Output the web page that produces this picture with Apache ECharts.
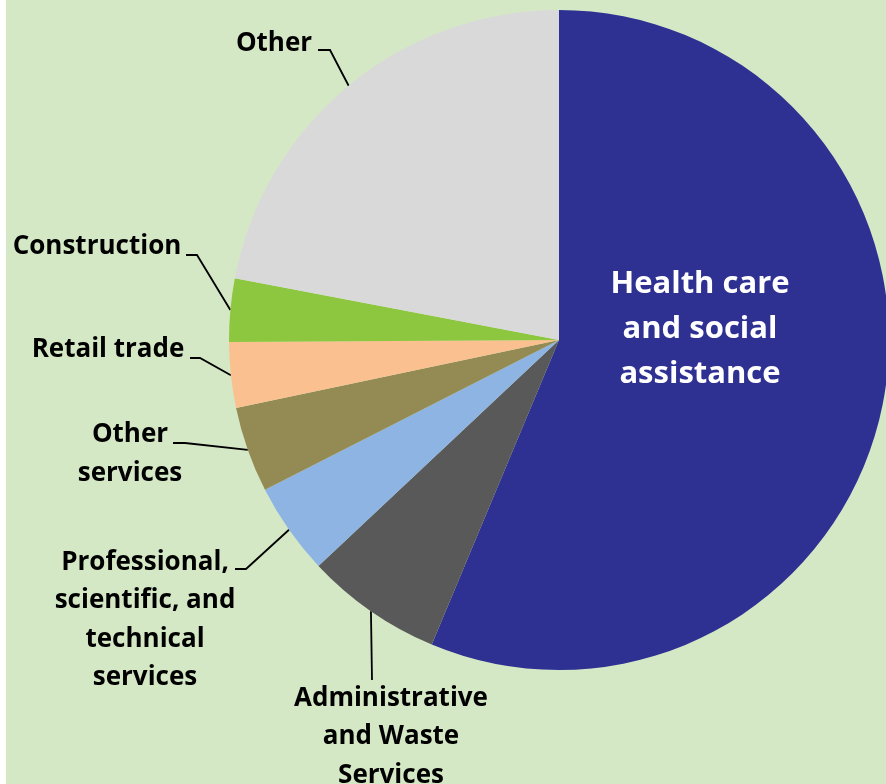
<!DOCTYPE html>
<html>
<head>
<meta charset="utf-8">
<script src="https://cdn.jsdelivr.net/npm/echarts@6/dist/echarts.min.js"></script>
<style>
  html, body { margin: 0; padding: 0; background: #ffffff; }
  #chart { width: 886px; height: 784px; }
</style>
</head>
<body>
<div id="chart"></div>
<script>
// ---- data ----
const categories = [
  'Health care and social assistance',
  'Administrative and Waste Services',
  'Professional, scientific, and technical services',
  'Other services',
  'Retail trade',
  'Construction',
  'Other'
];
const values = [56.3, 6.7, 4.5, 4.2, 3.2, 3.1, 22.0];
const labelText = [
  'Health care\nand social\nassistance',
  'Administrative\nand Waste\nServices',
  'Professional,\nscientific, and\ntechnical\nservices',
  'Other\nservices',
  'Retail trade',
  'Construction',
  'Other'
];
const colors = ['#2E3192', '#595959', '#8DB4E2', '#948A54', '#FAC090', '#8DC63F', '#D9D9D9'];

// ---- label placement (styling) ----
const labelPlace = [
  { x: 700, y: 329 },
  { x: 391, y: 737 },
  { x: 145, y: 620 },
  { x: 130, y: 454 },
  { x: 108, y: 350 },
  { x: 97,  y: 247 },
  { x: 274, y: 44 }
];
const lineBends = [
  null,
  [[372, 680]],
  [[246, 569], [235, 569]],
  [[185, 443], [173, 443]],
  [[200, 358], [190, 358]],
  [[197, 255], [186, 255]],
  [[330, 50], [318, 50]]
];

const chart = echarts.init(document.getElementById('chart'));
const data = categories.map((c, i) => {
  const d = { name: c, value: values[i], itemStyle: { color: colors[i] } };
  if (i === 0) {
    d.label = { position: 'inside', color: '#ffffff', fontSize: 31, lineHeight: 45 };
    d.labelLine = { show: false };
  }
  return d;
});

chart.setOption({
  backgroundColor: 'transparent',
  animation: false,
  graphic: [
    { type: 'rect', left: 6, top: 0, shape: { width: 880, height: 784 }, style: { fill: '#D5E8C5' }, z: -10, silent: true }
  ],
  series: [{
    type: 'pie',
    center: [559, 340],
    radius: 330,
    startAngle: 90,
    clockwise: true,
    avoidLabelOverlap: false,
    itemStyle: { borderWidth: 0 },
    label: {
      show: true,
      position: 'outside',
      formatter: p => labelText[p.dataIndex],
      fontFamily: 'Open Sans',
      fontWeight: 'bold',
      fontSize: 26,
      lineHeight: 38.5,
      color: '#000000',
      align: 'center'
    },
    labelLine: {
      show: true,
      length: 20,
      length2: 10,
      lineStyle: { color: '#000000', width: 1.8 }
    },
    labelLayout: function (params) {
      const i = params.dataIndex;
      const pl = labelPlace[i];
      const out = { x: pl.x, y: pl.y, align: 'center', verticalAlign: 'middle' };
      if (lineBends[i] && params.labelLinePoints && params.labelLinePoints.length) {
        const p0 = params.labelLinePoints[0];
        out.labelLinePoints = [p0].concat(lineBends[i]);
      }
      return out;
    },
    data: data
  }]
});
</script>
</body>
</html>
